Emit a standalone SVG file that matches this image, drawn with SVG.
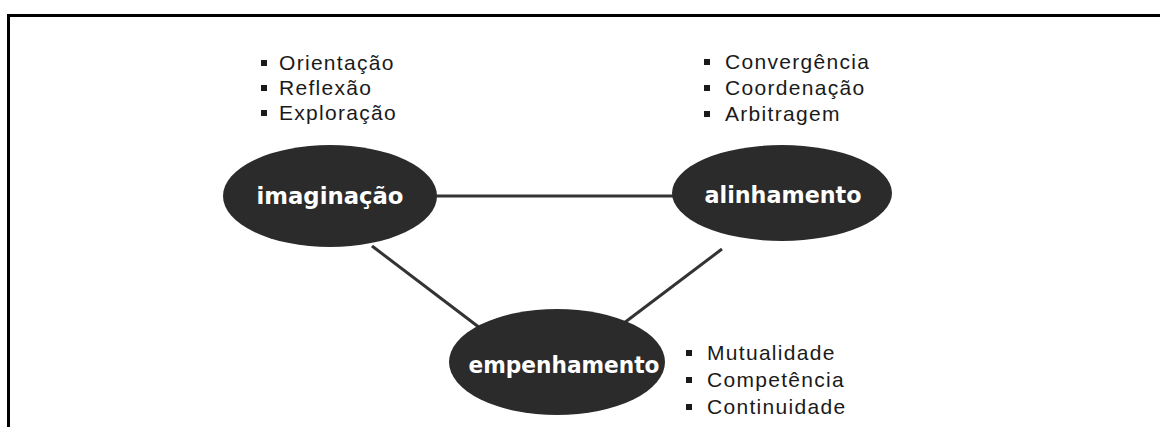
<svg xmlns="http://www.w3.org/2000/svg" width="1160" height="427" viewBox="0 0 1160 427">
<style>
.frame{fill:none;stroke:#000;stroke-width:3}
.node{fill:#2b2b2b}
.lbl{fill:#fff;font-family:"DejaVu Sans",Verdana,sans-serif;font-weight:bold;font-size:23px;text-anchor:middle}
.item{fill:#1a1a1a;font-family:"Liberation Sans",Arial,sans-serif;font-size:21px;letter-spacing:1.3px}
.bul{fill:#1a1a1a}
.edge{stroke:#333;stroke-width:3;fill:none}
</style>
<rect width="1160" height="427" fill="#fff"/>
<path class="frame" d="M8.5,427 V15.5 H1160"/>
<g id="connectors">
<line class="edge" x1="436" y1="196" x2="674" y2="196"/>
<line class="edge" x1="372" y1="246" x2="480" y2="328"/>
<line class="edge" x1="624" y1="323" x2="722" y2="249"/>
</g>
<g id="imaginacao">
<ellipse class="node" cx="330" cy="196" rx="107" ry="51"/>
<text class="lbl" x="330" y="204" textLength="147" lengthAdjust="spacingAndGlyphs">imaginação</text>
<rect class="bul" x="261" y="60" width="6" height="6"/>
<rect class="bul" x="261" y="85" width="6" height="6"/>
<rect class="bul" x="261" y="110" width="6" height="6"/>
<text class="item" x="279" y="70">Orientação</text>
<text class="item" x="279" y="95">Reflexão</text>
<text class="item" x="279" y="120">Exploração</text>
</g>
<g id="alinhamento">
<ellipse class="node" cx="782" cy="193" rx="110" ry="48"/>
<text class="lbl" x="783" y="203" textLength="157" lengthAdjust="spacingAndGlyphs">alinhamento</text>
<rect class="bul" x="704" y="59" width="6" height="6"/>
<rect class="bul" x="704" y="85" width="6" height="6"/>
<rect class="bul" x="704" y="111" width="6" height="6"/>
<text class="item" x="725" y="69">Convergência</text>
<text class="item" x="725" y="95">Coordenação</text>
<text class="item" x="725" y="121">Arbitragem</text>
</g>
<g id="empenhamento">
<ellipse class="node" cx="557" cy="362" rx="108" ry="53"/>
<text class="lbl" x="564" y="373" textLength="191" lengthAdjust="spacingAndGlyphs">empenhamento</text>
<rect class="bul" x="686" y="350" width="6" height="6"/>
<rect class="bul" x="686" y="377" width="6" height="6"/>
<rect class="bul" x="686" y="404" width="6" height="6"/>
<text class="item" x="707" y="360">Mutualidade</text>
<text class="item" x="707" y="387">Competência</text>
<text class="item" x="707" y="414">Continuidade</text>
</g>
</svg>
